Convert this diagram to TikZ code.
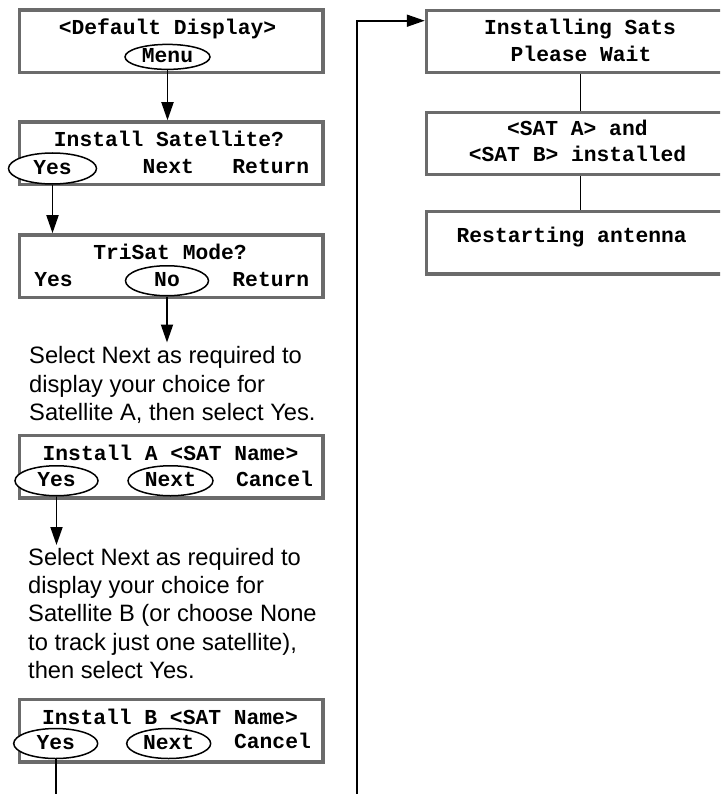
\documentclass[tikz,border=0pt]{standalone}
\usepackage{fontspec}
\setmainfont{Liberation Sans}
\newfontfamily\lcd{Liberation Mono}
\usetikzlibrary{shapes.geometric,arrows.meta,calc}
\definecolor{boxgray}{gray}{0.42}
\begin{document}
\begin{tikzpicture}[x=1pt,y=-1pt,
  lcdbox/.style={draw=boxgray,line width=3.5pt,fill=white,minimum width=303.5pt,minimum height=62.5pt,inner sep=0pt,anchor=north west},
  rbox/.style={lcdbox,minimum width=308pt,minimum height=62pt},
  lcdtxt/.style={font=\lcd\bfseries\fontsize{21.3}{26}\selectfont,inner sep=0pt,anchor=base},
  choice/.style={ellipse,draw=black,line width=1.5pt,fill=white,minimum width=85pt,minimum height=30pt,inner sep=0pt,font=\lcd\bfseries\fontsize{21.3}{26}\selectfont,text height=12pt,text depth=0pt},
  flow/.style={draw=black,line width=1.8pt,-{Triangle[length=18pt,width=12pt]}},
  plain/.style={draw=black,line width=1.8pt},
  note/.style={font=\fontsize{23.7}{28.3}\selectfont,align=left,inner sep=0pt,anchor=north west}
]
\clip (0,0) rectangle (720,794);
\fill[white] (0,0) rectangle (720,794);

% ---- left column boxes
\node[lcdbox] (b1) at (17.75,8.45) {};
\node[lcdtxt] (b1t) at (167.5,34.7) {<Default Display>};
\node[choice,minimum width=85pt,minimum height=25pt] (menu) at (167.5,56.9) {Menu};

\node[lcdbox] (b2) at (17.75,120.25) {};
\node[lcdtxt] (b2t) at (169,146.7) {Install Satellite?};
\node[choice,minimum width=88pt,minimum height=31pt] (b2yes) at (52.5,168.5) {Yes};
\node[lcdtxt] (b2next) at (168.3,173.8) {Next};
\node[lcdtxt] (b2ret) at (270.8,173.8) {Return};

\node[lcdbox] (b3) at (17.75,233.2) {};
\node[lcdtxt] (b3t) at (170,259.5) {TriSat Mode?};
\node[lcdtxt] (b3yes) at (53.5,286) {Yes};
\node[choice,minimum width=83pt] (b3no) at (167,280.75) {No};
\node[lcdtxt] (b3ret) at (270.8,286) {Return};

\node[note] (note1) at (29,346.5) {Select Next as required to\\display your choice for\\Satellite A, then select Yes.};

\node[lcdbox] (b4) at (17.75,433.75) {};
\node[lcdtxt] (b4t) at (170.5,460) {Install A <SAT Name>};
\node[choice,minimum width=83pt] (b4yes) at (56.5,480.75) {Yes};
\node[choice,minimum width=85pt] (b4next) at (170.5,480.75) {Next};
\node[lcdtxt] (b4can) at (274.5,486) {Cancel};

\node[note] (note2) at (28,548) {Select Next as required to\\display your choice for\\Satellite B (or choose None\\to track just one satellite),\\then select Yes.};

\node[lcdbox] (b5) at (17.75,697.75) {};
\node[lcdtxt] (b5t) at (170,724) {Install B <SAT Name>};
\node[choice,minimum width=84pt] (b5yes) at (55.7,743.5) {Yes};
\node[choice,minimum width=84pt] (b5next) at (168.7,743.5) {Next};
\node[lcdtxt] (b5can) at (272.5,748.8) {Cancel};

% ---- right column boxes
\node[rbox] (ra) at (424.75,8.75) {};
\node[lcdtxt] (rat1) at (580,35) {Installing Sats};
\node[lcdtxt] (rat2) at (581,62) {Please Wait};

\node[rbox] (rb) at (424.75,110.75) {};
\node[lcdtxt] (rbt1) at (577.3,135.5) {<SAT A> and};
\node[lcdtxt] (rbt2) at (577.5,162) {<SAT B> installed};

\node[rbox] (rc) at (424.75,210) {};
\node[lcdtxt] (rct) at (571.7,242) {Restarting antenna};

% ---- connectors
\coordinate (bot) at (0,794);
\coordinate (lbot) at (357,794);
\coordinate (ltop) at (357,20.7);

\draw[flow] (menu.south) -- (menu.south |- b2.north);
\draw[flow] (b2yes.south) -- (b2yes.south |- b3.north);
\draw[flow,shorten >=4pt] (b3no.south) -- (b3no.south |- note1.north);
\draw[flow,shorten >=3pt] (b4yes.south) -- (b4yes.south |- note2.north);
\draw[plain] (b5yes.south) -- (b5yes.south |- bot);
\draw[flow] (lbot) -- (ltop) -- (ltop -| ra.west);
\draw[plain] (ra.south) -- (rb.north);
\draw[plain] (rb.south) -- (rc.north);
\end{tikzpicture}
\end{document}
